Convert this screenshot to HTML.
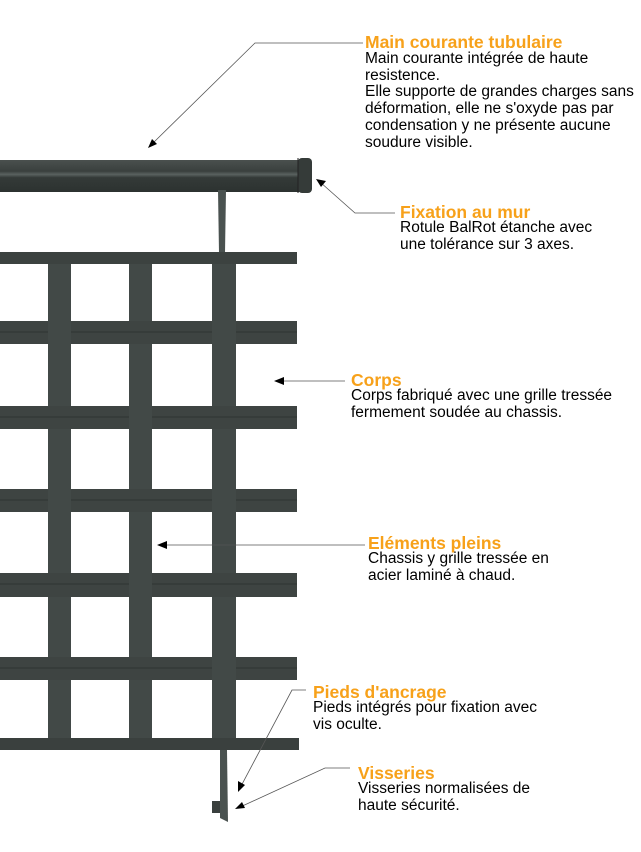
<!DOCTYPE html>
<html><head><meta charset="utf-8"><style>
body{margin:0;width:641px;height:852px;background:#fff;position:relative;overflow:hidden;font-family:"Liberation Sans",sans-serif}
.t{position:absolute;color:#f7a11a;font-weight:bold;font-size:17.5px;line-height:18px;white-space:nowrap}
.b{position:absolute;color:#000;font-size:15.5px;line-height:16.7px;white-space:nowrap}
svg{position:absolute;left:0;top:0}
</style></head><body>
<svg width="641" height="852" viewBox="0 0 641 852">
<defs>
<linearGradient id="rail" x1="0" y1="0" x2="0" y2="1">
<stop offset="0" stop-color="#4a504e"/><stop offset="0.35" stop-color="#3a403e"/><stop offset="0.45" stop-color="#5a6260"/><stop offset="0.55" stop-color="#343a38"/><stop offset="1" stop-color="#2c3230"/>
</linearGradient>
</defs>
<rect x="0" y="160" width="300" height="32" fill="url(#rail)"/>
<rect x="298" y="158" width="14" height="35" rx="4" fill="#353b39"/>
<line x1="298" y1="158" x2="298" y2="193" stroke="#222" stroke-width="1"/>
<polygon points="218,190 226,190 225,253 219,253" fill="#4a5250"/>
<rect x="0" y="252" width="297" height="12" fill="#3c4240"/>
<rect x="0" y="738" width="299" height="12" fill="#3a403e"/>
<polygon points="220,750 227,750 228,822 220,818" fill="#4a5250"/>
<rect x="212" y="801" width="8" height="12" fill="#3a403e"/>
<g fill="#424947">
<rect x="48" y="264" width="23" height="474"/>
<rect x="129" y="264" width="23" height="474"/>
<rect x="212" y="264" width="24" height="474"/>
</g>
<g fill="#3e4442">
<rect x="0" y="321" width="297" height="23"/>
<rect x="0" y="406" width="297" height="23"/>
<rect x="0" y="489" width="297" height="23"/>
<rect x="0" y="573" width="297" height="24"/>
<rect x="0" y="657" width="297" height="23"/>
</g>
<g stroke="#2a302e" stroke-width="0.8">
<line x1="0" y1="332" x2="297" y2="332"/><line x1="0" y1="417" x2="297" y2="417"/><line x1="0" y1="500" x2="297" y2="500"/><line x1="0" y1="584" x2="297" y2="584"/><line x1="0" y1="668" x2="297" y2="668"/>
</g>
<g fill="#424947">
<rect x="48" y="321" width="23" height="23"/><rect x="212" y="321" width="24" height="23"/>
<rect x="129" y="406" width="23" height="23"/>
<rect x="48" y="489" width="23" height="23"/><rect x="212" y="489" width="24" height="23"/>
<rect x="129" y="573" width="23" height="24"/>
<rect x="212" y="657" width="24" height="23"/>
</g>
<g stroke="#555" stroke-width="0.8" fill="none">
<polyline points="363,43 255,43 152,144"/>
<polyline points="395,213 355,213 320,182"/>
<line x1="345" y1="381" x2="280" y2="381"/>
<line x1="365" y1="545" x2="163" y2="545"/>
<polyline points="306,690 292,690 240,788"/>
<polyline points="350,768 325,768 238,808"/>
</g>
<g fill="#000">
<polygon points="148,148 152,139 157,144"/>
<polygon points="316,179 326,181 321,187"/>
<polygon points="274,381 284,377 284,385"/>
<polygon points="157,545 167,541 167,549"/>
<polygon points="238,792 238,781 245,785"/>
<polygon points="235,809 242,802 245,808"/>
</g>
</svg>
<div class="t" style="left:365px;top:33px">Main courante tubulaire</div>
<div class="b" style="left:365px;top:51px">Main courante intégrée de haute<br>resistence.<br>Elle supporte de grandes charges sans<br>déformation, elle ne s'oxyde pas par<br>condensation y ne présente aucune<br>soudure visible.</div>
<div class="t" style="left:400px;top:203px">Fixation au mur</div>
<div class="b" style="left:400px;top:220px">Rotule BalRot étanche avec<br>une tolérance sur 3 axes.</div>
<div class="t" style="left:351px;top:371px">Corps</div>
<div class="b" style="left:351px;top:388px">Corps fabriqué avec une grille tressée<br>fermement soudée au chassis.</div>
<div class="t" style="left:368px;top:534px">Eléments pleins</div>
<div class="b" style="left:368px;top:551px">Chassis y grille tressée en<br>acier laminé à chaud.</div>
<div class="t" style="left:313px;top:683px">Pieds d'ancrage</div>
<div class="b" style="left:313px;top:700px">Pieds intégrés pour fixation avec<br>vis oculte.</div>
<div class="t" style="left:358px;top:764px">Visseries</div>
<div class="b" style="left:358px;top:781px">Visseries normalisées de<br>haute sécurité.</div>
</body></html>
